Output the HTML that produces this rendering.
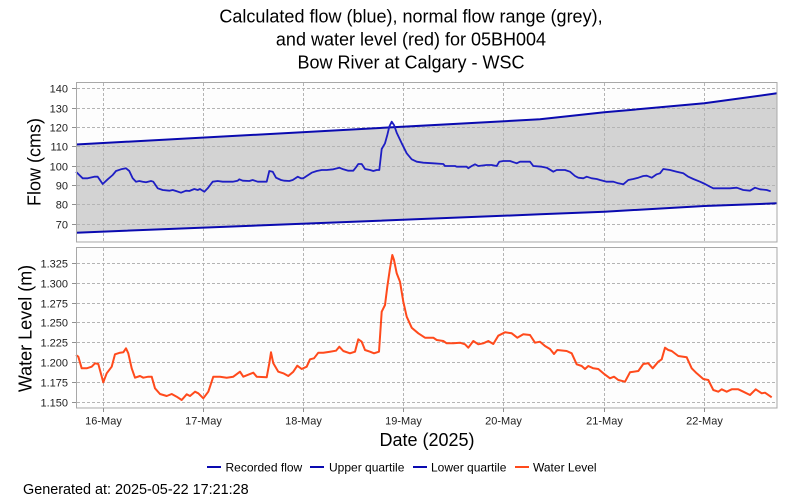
<!DOCTYPE html>
<html><head><meta charset="utf-8"><style>
html,body{margin:0;padding:0;background:#fff;width:800px;height:500px;overflow:hidden}
svg{display:block;font-family:"Liberation Sans",Arial,sans-serif}
</style></head><body>
<svg width="800" height="500" viewBox="0 0 800 500" xmlns="http://www.w3.org/2000/svg">
<rect width="800" height="500" fill="#fff"/>
<!-- Title -->
<g font-size="18" fill="#000" text-anchor="middle">
<text x="411" y="22.5">Calculated flow (blue), normal flow range (grey),</text>
<text x="411" y="45.5">and water level (red) for 05BH004</text>
<text x="411" y="68.5">Bow River at Calgary - WSC</text>
</g>

<!-- Top plot -->
<rect x="76.5" y="82.5" width="700.5" height="159.5" fill="#fdfdfd"/>
<polygon fill="#d3d3d3" points="76,144.5 540,119.3 604.3,112.3 704.3,103.3 777,93.3 777,203.3 704.3,206 604.3,211.7 540,214.3 76,232.7"/>
<g stroke="#b4b4b4" stroke-width="1" stroke-dasharray="3,2" fill="none">
<line x1="77" x2="777" y1="88.5" y2="88.5"/>
<line x1="77" x2="777" y1="108.5" y2="108.5"/>
<line x1="77" x2="777" y1="127.5" y2="127.5"/>
<line x1="77" x2="777" y1="146.5" y2="146.5"/>
<line x1="77" x2="777" y1="166.5" y2="166.5"/>
<line x1="77" x2="777" y1="185.5" y2="185.5"/>
<line x1="77" x2="777" y1="204.5" y2="204.5"/>
<line x1="77" x2="777" y1="224.5" y2="224.5"/>
<line y1="83" y2="242" x1="103.5" x2="103.5"/>
<line y1="83" y2="242" x1="203.5" x2="203.5"/>
<line y1="83" y2="242" x1="303.5" x2="303.5"/>
<line y1="83" y2="242" x1="403.5" x2="403.5"/>
<line y1="83" y2="242" x1="503.5" x2="503.5"/>
<line y1="83" y2="242" x1="604.5" x2="604.5"/>
<line y1="83" y2="242" x1="704.5" x2="704.5"/>
</g>
<polyline fill="none" stroke="#0a0ab0" stroke-width="2" points="76,144.5 540,119.3 604.3,112.3 704.3,103.3 777,93.3"/>
<polyline fill="none" stroke="#0a0ab0" stroke-width="2" points="76,232.7 540,214.3 604.3,211.7 704.3,206 777,203.3"/>
<polyline fill="none" stroke="#1e1ec4" stroke-width="1.8" stroke-linejoin="round" points="76,171.7 79.3,175 82.7,178.3 87.7,178.3 94.3,176.7 97.7,176.7 102.7,184 107.7,179.3 112.7,175 116,171 121,169.3 126,168.3 129.3,171 132.7,178.3 136,181.7 139.3,181 142.7,181.7 146,182.3 151,181 153.3,181.7 157.7,188.3 162.7,190 169.3,190.7 172.7,190 176,191 181,192.7 186,190.7 189.3,191 194.3,189 197.7,190 200,189 204.3,191.7 207.7,188.3 212.7,181.7 217.7,181 222.7,181.7 232.7,181.7 237.7,180.7 239.3,179.3 242.7,180.7 249.3,181 252.7,180 257.7,181.7 266.7,181.7 269.3,171 272.7,171.7 276,177.7 281,180 284.3,180.7 289.3,181 292.7,180 297.7,176.7 301,178.3 303.3,178.3 306.7,176 311.7,172.7 316.7,171 321.7,170 326.7,170 333.3,169.3 339.3,167.7 343.3,169.3 348.3,170.7 353.3,170.7 356,167.3 358.3,164 361.7,164 365,169 370,170 373.3,171 376.7,170 379.3,170 381.7,149 385,143.3 387.3,135 389.3,126.7 391.7,121.7 394,125 396.7,132.7 401.7,143.3 406.7,153.3 411.7,159.3 416.7,161.7 423.3,162.7 433.3,163.3 443.3,164 445,166 455,166 456.7,166.7 466.7,166.7 468.3,168.3 471.7,166 475,164.3 478.3,166 486.7,165 491.7,165 496.7,166 499.3,161.7 503.3,161 510,161 516.7,163.3 520,161.7 530,161.7 533.3,166 541.7,166.7 546.7,167.7 553.3,171.7 556.7,170 565,170 570,171.7 575,176 578.3,177.7 583.3,178.3 586.7,176.7 591.7,178.3 596.7,179 600,180 606.7,181.7 613.3,181.7 618.3,183.3 623.3,184.3 628.3,180 633.3,179 638.3,177.7 643.3,176 646.7,175.7 651.7,177.7 656.7,174.3 660,173.3 663.3,169 670,170 676.7,171.7 683.3,173.3 688.3,176.7 693.3,179 700,181.7 705,184 710,186.7 713.3,188.3 721.7,188.3 730,188.3 736.7,187.7 743.3,190 750,190.7 755,187.7 760,189.3 766.7,190 770.7,191.3"/>
<rect x="76.5" y="82.5" width="700.5" height="159.5" fill="none" stroke="#a8a8a8" stroke-width="1"/>
<g stroke="#909090" stroke-width="1">
<line x1="72" x2="76" y1="88.5" y2="88.5"/>
<line x1="72" x2="76" y1="108.5" y2="108.5"/>
<line x1="72" x2="76" y1="127.5" y2="127.5"/>
<line x1="72" x2="76" y1="146.5" y2="146.5"/>
<line x1="72" x2="76" y1="166.5" y2="166.5"/>
<line x1="72" x2="76" y1="185.5" y2="185.5"/>
<line x1="72" x2="76" y1="204.5" y2="204.5"/>
<line x1="72" x2="76" y1="224.5" y2="224.5"/>
</g>
<g font-size="11" fill="#222" text-anchor="end">
<text x="68" y="92.5">140</text>
<text x="68" y="112.5">130</text>
<text x="68" y="131.5">120</text>
<text x="68" y="150.5">110</text>
<text x="68" y="170.5">100</text>
<text x="68" y="189.5">90</text>
<text x="68" y="208.5">80</text>
<text x="68" y="228.5">70</text>
</g>
<text transform="translate(40.5,162) rotate(-90)" font-size="18" text-anchor="middle" fill="#000">Flow (cms)</text>

<!-- Bottom plot -->
<rect x="76.5" y="247.5" width="700.5" height="160.5" fill="#fdfdfd"/>
<g stroke="#b4b4b4" stroke-width="1" stroke-dasharray="3,2" fill="none">
<line x1="77" x2="777" y1="263.5" y2="263.5"/>
<line x1="77" x2="777" y1="283.5" y2="283.5"/>
<line x1="77" x2="777" y1="303.5" y2="303.5"/>
<line x1="77" x2="777" y1="322.5" y2="322.5"/>
<line x1="77" x2="777" y1="342.5" y2="342.5"/>
<line x1="77" x2="777" y1="362.5" y2="362.5"/>
<line x1="77" x2="777" y1="382.5" y2="382.5"/>
<line x1="77" x2="777" y1="402.5" y2="402.5"/>
<line y1="248" y2="408" x1="103.5" x2="103.5"/>
<line y1="248" y2="408" x1="203.5" x2="203.5"/>
<line y1="248" y2="408" x1="303.5" x2="303.5"/>
<line y1="248" y2="408" x1="403.5" x2="403.5"/>
<line y1="248" y2="408" x1="503.5" x2="503.5"/>
<line y1="248" y2="408" x1="604.5" x2="604.5"/>
<line y1="248" y2="408" x1="704.5" x2="704.5"/>
</g>
<polyline fill="none" stroke="#ff4a1c" stroke-width="2" stroke-linejoin="round" points="76,355 78.3,356.7 81.7,368.3 86.7,368.3 91.7,366.7 95,363.3 98.3,364 103.3,382.3 106.7,373.3 111.7,366.7 115,354.3 120,352.7 123.3,352.3 126,348.3 128.3,353.3 131.7,368.3 135,377.7 140,376 143.3,377.7 148.3,376.7 151.7,376.7 155,388.3 160,394 166.7,396 171.7,394 176.7,396.7 181.7,400 186.7,394.3 190,396 195,391.7 198.3,393.3 203.3,398.3 208.3,391.7 213.3,376.7 220,376.7 226.7,377.7 233.3,376.7 240,371.7 243.3,376.7 253.3,372.7 256.7,376.7 266.7,377.3 269.3,363.3 271,352.3 273.3,363.3 278.3,371.7 283.3,373.3 288.3,376 293.3,371.7 297.3,365.7 301.7,369 306.7,366.7 310,359.3 314,358.3 318.3,352.7 323.3,352.7 330,351.7 336,350.7 339.3,346.7 343.3,351 350,353.3 355,351.7 358.3,339.3 361.7,341.7 365,350 370,351.7 374,353.3 379,351.7 381.7,311.7 385,305 387.3,286.7 390,268.3 392.3,255 394,260 396.7,273.3 400,281.7 403.3,301.7 406.7,316.7 411.7,327.7 418.3,333.3 425,337.7 433.3,337.7 436.7,340 443.3,341 446.7,343.3 453.3,343.3 460,342.7 465,344.3 468.3,347.7 473.3,341 478.3,344.3 483.3,343.3 488.3,341 493.3,344 498.3,335.7 505,332.3 511.7,333.3 517.3,337.7 523.3,334.3 530,335 535,342.7 540,341.7 545,346 550,349 554,354 557.3,350 566.7,351 571.7,353.3 576.7,364.3 581.7,366 585,369 588.3,366 593.3,368.3 598.3,369 603.3,373.3 610,378.3 614,376.7 618.3,380 625,381.7 630,372.3 638.3,371 643.3,364 648.3,363.3 652.7,368.3 658.3,361.7 661.7,359.3 665,347.7 668.3,350 671.7,351 678.3,356 686.7,357.3 691.7,368.3 696.7,373.3 703.3,379 708.3,380 713.3,390 718.3,391.7 721.7,389.3 726.7,391.7 731.7,389.3 738.3,389.3 743.3,391.7 750,395 755.7,389.3 761.7,393.3 765,392.7 771.7,397.3"/>
<rect x="76.5" y="247.5" width="700.5" height="160.5" fill="none" stroke="#a8a8a8" stroke-width="1"/>
<g stroke="#909090" stroke-width="1">
<line x1="72" x2="76" y1="263.5" y2="263.5"/>
<line x1="72" x2="76" y1="283.5" y2="283.5"/>
<line x1="72" x2="76" y1="303.5" y2="303.5"/>
<line x1="72" x2="76" y1="322.5" y2="322.5"/>
<line x1="72" x2="76" y1="342.5" y2="342.5"/>
<line x1="72" x2="76" y1="362.5" y2="362.5"/>
<line x1="72" x2="76" y1="382.5" y2="382.5"/>
<line x1="72" x2="76" y1="402.5" y2="402.5"/>
<line y1="408" y2="412" x1="103.5" x2="103.5"/>
<line y1="408" y2="412" x1="203.5" x2="203.5"/>
<line y1="408" y2="412" x1="303.5" x2="303.5"/>
<line y1="408" y2="412" x1="403.5" x2="403.5"/>
<line y1="408" y2="412" x1="503.5" x2="503.5"/>
<line y1="408" y2="412" x1="604.5" x2="604.5"/>
<line y1="408" y2="412" x1="704.5" x2="704.5"/>
</g>
<g font-size="11" fill="#222" text-anchor="end">
<text x="68" y="267.5">1.325</text>
<text x="68" y="287.5">1.300</text>
<text x="68" y="307.5">1.275</text>
<text x="68" y="326.5">1.250</text>
<text x="68" y="346.5">1.225</text>
<text x="68" y="366.5">1.200</text>
<text x="68" y="386.5">1.175</text>
<text x="68" y="406.5">1.150</text>
</g>
<text transform="translate(31.5,328.5) rotate(-90)" font-size="18" text-anchor="middle" fill="#000">Water Level (m)</text>
<g font-size="11" fill="#222" text-anchor="middle">
<text x="103.5" y="424.5">16-May</text>
<text x="203.5" y="424.5">17-May</text>
<text x="303.5" y="424.5">18-May</text>
<text x="403.5" y="424.5">19-May</text>
<text x="503.5" y="424.5">20-May</text>
<text x="604.5" y="424.5">21-May</text>
<text x="704.5" y="424.5">22-May</text>
</g>
<text x="427" y="446" font-size="18" text-anchor="middle" fill="#000">Date (2025)</text>

<!-- Legend -->
<g stroke-width="2">
<line x1="207" x2="221" y1="467" y2="467" stroke="#0a0ab0"/>
<line x1="310" x2="324" y1="467" y2="467" stroke="#0a0ab0"/>
<line x1="413" x2="427" y1="467" y2="467" stroke="#0a0ab0"/>
<line x1="515" x2="529" y1="467" y2="467" stroke="#ff4a1c"/>
</g>
<g font-size="12" fill="#000">
<text x="225.5" y="471.3">Recorded flow</text>
<text x="329" y="471.3">Upper quartile</text>
<text x="431" y="471.3">Lower quartile</text>
<text x="533" y="471.3">Water Level</text>
</g>
<text x="23" y="494" font-size="14.4" fill="#000">Generated at: 2025-05-22 17:21:28</text>
</svg>
</body></html>
